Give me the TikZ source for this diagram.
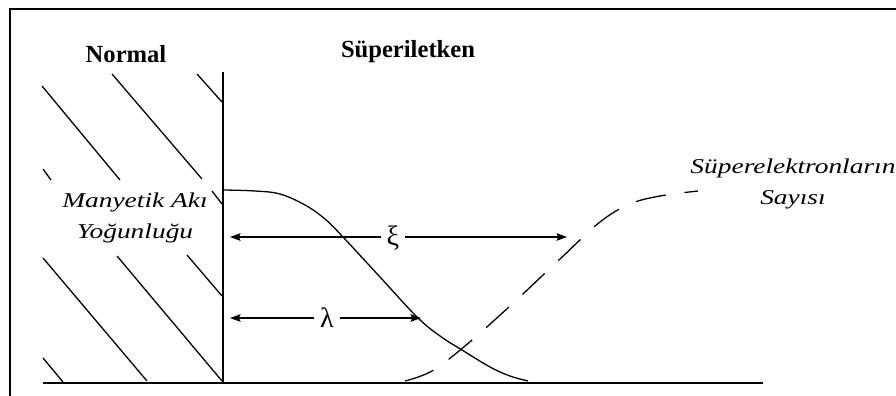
\documentclass[tikz,border=0pt]{standalone}
\usepackage{fontspec}
\usepackage{graphicx}
\setmainfont{Liberation Serif}
\usetikzlibrary{arrows.meta}
\tikzset{
  frameline/.style={line width=1.6pt},
  axisline/.style={line width=2.4pt},
  hatchline/.style={line width=1.1pt},
  curveline/.style={line width=1.1pt},
  dashcurve/.style={line width=1.1pt, dash pattern=on 26pt off 16pt},
  dimarrow/.style={line width=1.1pt, -{Stealth[length=9pt,width=6.5pt,inset=1.5pt]}},
  headlabel/.style={font=\bfseries\fontsize{21}{24}\selectfont, inner sep=0pt},
  greeklabel/.style={font=\fontsize{24}{26}\selectfont, inner sep=5pt},
  itlabel/.style={font=\itshape\fontsize{18}{26}\selectfont, inner sep=0pt, align=center}
}
\begin{document}
\begin{tikzpicture}[x=0.03cm,y=-0.03cm]
\useasboundingbox (0,0) rectangle (896,396);
\fill[white] (0,0) rectangle (896,396);
% frame (left and top)
\draw[frameline] (10,396) -- (10,9) -- (896,9);
% axes
\draw[axisline] (43,383) -- (763,383);
\draw[axisline] (223,72) -- (223,383);
% hatching of the normal region
\draw[hatchline] (197,74) -- (222,102);
\draw[hatchline] (112,74) -- (202,179);
\draw[hatchline] (212,191) -- (222,204);
\draw[hatchline] (42,86) -- (120,180);
\draw[hatchline] (187,255) -- (222,296);
\draw[hatchline] (43,169) -- (51,180);
\draw[hatchline] (117,256) -- (222,381);
\draw[hatchline] (43,258) -- (147,381);
\draw[hatchline] (43,358) -- (63,382);
% magnetic flux density curve
\draw[curveline] plot[smooth, tension=0.6] coordinates {(224,190) (255,191) (280,194) (305,205) (325,219) (343,237) (380,277) (417,317) (440,336) (462,350) (490,367) (510,376) (528,381)};
% number of superelectrons (dashed)
\draw[dashcurve] plot[smooth, tension=0.6] coordinates {(405,381) (432,371) (465,346) (510,306) (560,259) (600,222) (630,204) (660,196) (698,191)};
% labels
\node[headlabel] (normal) at (126,54) {Normal};
\node[headlabel] (super) at (408,52) {Süperiletken};
\node[itlabel] (flux) at (135,218) {\scalebox{1.3}[1]{Manyetik Akı}\\\scalebox{1.3}[1]{Yoğunluğu}};
\node[itlabel] (nse) at (793,184) {\scalebox{1.3}[1]{Süperelektronların}\\\scalebox{1.3}[1]{Sayısı}};
% xi arrow
\node[greeklabel] (xi) at (393,238) {ξ};
\coordinate (xiL) at (230,237);
\coordinate (xiR) at (567,237);
\draw[dimarrow] (xi.west |- xiL) -- (xiL);
\draw[dimarrow] (xi.east |- xiR) -- (xiR);
% lambda arrow
\node[greeklabel] (lam) at (327,318) {λ};
\coordinate (lamL) at (230,318);
\coordinate (lamR) at (421,318);
\draw[dimarrow] (lam.west |- lamL) -- (lamL);
\draw[dimarrow] (lam.east |- lamR) -- (lamR);
\end{tikzpicture}
\end{document}
